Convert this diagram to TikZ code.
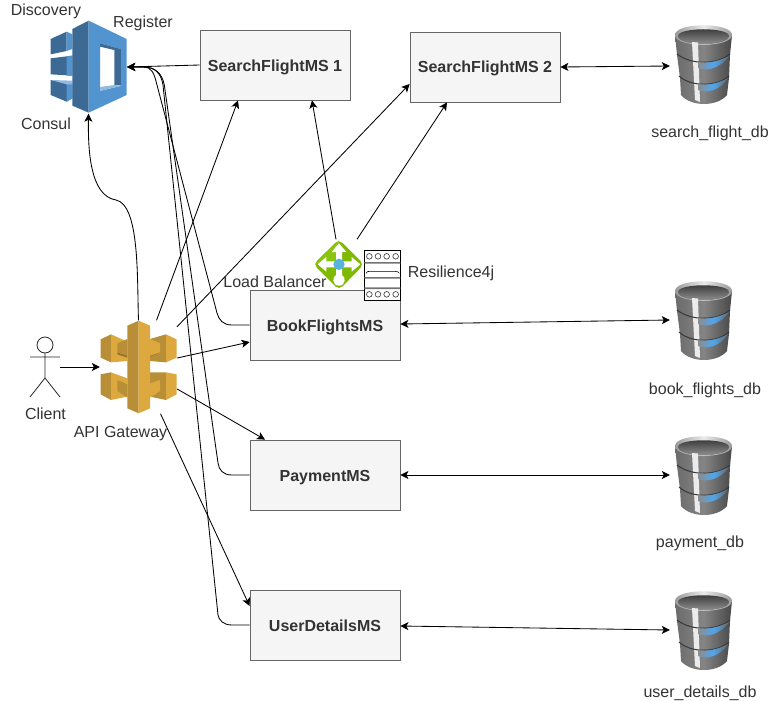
\documentclass[tikz,border=0pt]{standalone}
\usepackage{fontspec}
\setmainfont{Liberation Sans}
\usetikzlibrary{arrows.meta}
\definecolor{boxfill}{HTML}{F5F5F5}
\definecolor{boxline}{HTML}{666666}
\definecolor{txt}{HTML}{333333}
\definecolor{cblue}{HTML}{5294CF}
\definecolor{cdark}{HTML}{3C6A94}
\definecolor{clight}{HTML}{8FBBE2}
\definecolor{gold}{HTML}{DDA93F}
\definecolor{golddk}{HTML}{93712F}
\definecolor{goldmd}{HTML}{B88E36}
\definecolor{glow}{HTML}{4FA6EE}
\definecolor{lbgreen}{HTML}{7FBA00}
\definecolor{lblight}{HTML}{8AC40F}
\definecolor{lbblue}{HTML}{59B4D9}
\tikzset{
  x=1pt,y=-1pt,
  msbox/.style={draw=boxline,fill=boxfill,line width=0.8pt,minimum width=150pt,minimum height=70pt,inner sep=0pt,font=\fontsize{16}{18}\selectfont\bfseries,text=txt,text height=12pt,text depth=0pt},
  lbl/.style={font=\fontsize{16}{18}\selectfont,text=txt,inner sep=0pt,text height=12pt,text depth=0pt},
  iconbox/.style={inner sep=0pt,minimum width=#1},
  link/.style={draw=black,line width=0.85pt,-{Stealth[length=8pt,width=8pt,inset=2pt]}},
  dlink/.style={draw=black,line width=0.85pt,{Stealth[length=8pt,width=8pt,inset=2pt]}-{Stealth[length=8pt,width=8pt,inset=2pt]}},
  pics/dbicon/.style={code={
    \shade[left color=black!58,right color=black!72,middle color=black!48]
      (0,10) -- (2,30) -- (5,53) -- (6,70) .. controls (16,82) and (42,82) .. (52,70) -- (54,53) -- (55,30) -- (57,10) -- cycle;
    \shade[left color=black!40,right color=black!40,middle color=black!8]
      (0,10) .. controls (0,-3) and (57,-3) .. (57,10) .. controls (57,23) and (0,23) .. (0,10) -- cycle;
    \shade[top color=black!80,bottom color=black!38]
      (3,11) .. controls (3,2) and (54,2) .. (54,11) .. controls (54,22) and (3,22) .. (3,11) -- cycle;
    \fill[black!8] (17,17) -- (23,17.5) -- (25,77) -- (20,75) -- cycle;
    \draw[black!78,line width=1pt] (2,29) .. controls (16,40) and (41,40) .. (55,29);
    \draw[black!78,line width=1pt] (4,51) .. controls (16,62) and (41,62) .. (54,51);
    \shade[left color=black!45,right color=black!60,middle color=glow]
      (23,37) .. controls (32,38.5) and (42,37) .. (54,31) .. controls (44,45) and (30,46) .. (23,43) -- cycle;
    \shade[left color=black!45,right color=black!60,middle color=glow]
      (23,59) .. controls (32,60.5) and (42,59) .. (53,53) .. controls (44,67) and (30,68) .. (23,65) -- cycle;
  }}
}
\begin{document}
\begin{tikzpicture}
\useasboundingbox (0,0) rectangle (776,701);

% consul icon
\begin{scope}[shift={(45,15)},scale=1/3]
  \fill[cdark] (17,72) -- (65,50) -- (65,108) -- (17,118) -- cycle;
  \fill[cblue] (65,50) -- (82,58) -- (82,102) -- (65,108) -- cycle;
  \fill[cdark] (17,130) -- (82,122) -- (82,182) -- (17,178) -- cycle;
  \fill[cblue] (65,124) -- (82,122) -- (82,182) -- (65,182) -- cycle;
  \fill[cdark] (17,195) -- (82,208) -- (82,250) -- (65,260) -- (17,240) -- cycle;
  \fill[cblue] (65,204) -- (82,208) -- (82,250) -- (65,260) -- cycle;
  \fill[clight] (17,195) -- (82,197) -- (82,208) -- (65,208) -- cycle;
  \fill[cdark] (82,42) -- (131,17) -- (131,293) -- (82,272) -- cycle;
  \fill[cblue,even odd rule] (131,17) -- (245,72) -- (245,240) -- (131,293) -- cycle
     (165,85) -- (165,228) -- (230,212) -- (230,103) -- cycle;
  \fill[cdark] (165,85) -- (230,103) -- (230,212) -- (208,210) -- (208,105) -- (165,95) -- cycle;
  \fill[clight] (165,228) -- (165,216) -- (208,210) -- (230,212) -- cycle;
\end{scope}
\node[iconbox=77pt,minimum height=93pt] (consul) at (88.5,67) {};

% gateway icon
\begin{scope}[shift={(95,315)},scale=1/3]
  % upper left
  \fill[goldmd] (17,73) -- (48,58) -- (48,142) -- (17,128) -- cycle;
  \fill[gold] (48,58) -- (97,80) -- (97,138) -- (48,142) -- cycle;
  \fill[golddk] (67,112) -- (97,122) -- (97,128) -- (67,118) -- cycle;
  \fill[goldmd] (67,85) -- (97,72) -- (97,122) -- (67,112) -- cycle;
  % upper right
  \fill[goldmd] (165,72) -- (213,58) -- (213,142) -- (165,138) -- cycle;
  \fill[gold] (213,58) -- (245,73) -- (245,128) -- (213,142) -- cycle;
  \fill[golddk] (165,112) -- (195,112) -- (165,125) -- cycle;
  \fill[gold] (165,72) -- (195,85) -- (195,112) -- (165,122) -- cycle;
  % lower left
  \fill[goldmd] (17,178) -- (48,172) -- (48,255) -- (17,238) -- cycle;
  \fill[gold] (48,172) -- (97,190) -- (97,245) -- (48,255) -- cycle;
  \fill[goldmd] (67,195) -- (97,208) -- (97,248) -- (67,228) -- cycle;
  % lower right
  \fill[goldmd] (165,172) -- (213,172) -- (213,255) -- (165,245) -- cycle;
  \fill[gold] (213,172) -- (245,178) -- (245,238) -- (213,255) -- cycle;
  \fill[gold] (165,205) -- (195,195) -- (195,228) -- (165,248) -- cycle;
  % column
  \fill[goldmd] (97,32) -- (131,17) -- (131,295) -- (97,280) -- cycle;
  \fill[gold] (131,17) -- (165,32) -- (165,280) -- (131,295) -- cycle;
\end{scope}
\node[iconbox=77pt,minimum height=93pt] (gw) at (138.5,367) {};

% client actor
\begin{scope}[draw=black!85,line width=0.8pt]
  \draw (45,345) circle (8pt);
  \draw (45,353) -- (45,378) (30,357) -- (60,357) (45,378) -- (30,397) (45,378) -- (60,397);
\end{scope}
\node[inner sep=0pt,minimum width=30pt,minimum height=60pt] (client) at (45,367) {};

% boxes
\node[msbox] (sf1) at (275,65) {SearchFlightMS 1};
\node[msbox] (sf2) at (485,67) {SearchFlightMS 2};
\node[msbox] (book) at (325,325) {BookFlightsMS};
\node[msbox] (pay) at (325,475) {PaymentMS};
\node[msbox] (user) at (325,625) {UserDetailsMS};

% databases
\path (675,25) pic {dbicon};
\path (675,281) pic {dbicon};
\path (675,436) pic {dbicon};
\path (675,591) pic {dbicon};
\node[iconbox=60pt,minimum height=80pt] (dbs) at (700,66) {};
\node[iconbox=60pt,minimum height=80pt] (dbb) at (700,320) {};
\node[iconbox=60pt,minimum height=80pt] (dbp) at (700,475) {};
\node[iconbox=60pt,minimum height=80pt] (dbu) at (700,630) {};

% load balancer
\begin{scope}[shift={(300,230)},scale=1/3]
  \fill[lbgreen,rounded corners=5pt] (117,28) -- (192,103) -- (117,180) -- (40,103) -- cycle;
  \fill[lblight] (117,31) -- (44,103) -- (117,103) -- cycle;
  \fill[white] (117,40) -- (139,66) -- (126,66) -- (126,135) .. controls (138,140) and (138,167) .. (117,167) .. controls (96,167) and (96,140) .. (108,135) -- (108,66) -- (95,66) -- cycle;
  \fill[white] (53,103) -- (79,81) -- (79,94) -- (155,94) -- (155,81) -- (181,103) -- (155,125) -- (155,112) -- (79,112) -- (79,125) -- cycle;
  \fill[lbblue] (117,103) circle (17);
\end{scope}
\node[iconbox=50pt,minimum height=50pt] (lb) at (339,264.5) {};

% resilience icon
\begin{scope}[shift={(300,230)},scale=1/3]
  \draw[black,fill=white,line width=0.9pt] (193,61) rectangle (301,211);
  \foreach \x in {208,234,260,287} { \draw[black!70,line width=0.7pt] (\x,79) circle (8.5); \draw[black!70,line width=0.7pt] (\x,193) circle (8.5); }
  \fill[black!55] (193,96) rectangle (301,101) (193,141) rectangle (301,146) (193,172) rectangle (301,177);
  \draw[black,line width=0.6pt] (198,130) .. controls (200,124) and (205,124) .. (210,124) -- (285,124) .. controls (292,124) and (296,126) .. (298,130);
\end{scope}
\node[iconbox=36pt,minimum height=50pt] (res) at (382,275) {};

% connectors
\draw[link] (client.east) -- (gw.west);
\draw[link] (sf1.west) -- (consul.east);
\draw[link] (book.west) -- (232,325) .. controls (223,325) and (219,320) .. (217,313) -- (157,85) .. controls (154,73) and (152,67) .. (143,67) -- (consul.east);
\draw[link] (pay.west) -- (232,475) .. controls (223,475) and (219,470) .. (218,463) -- (164.3,85) .. controls (162,73) and (155,67) .. (143,67) -- (consul.east);
\draw[link] (user.west) -- (232,625) .. controls (223,625) and (219,620) .. (218,615) -- (163,85) .. controls (161,73) and (155,67) .. (143,67) -- (consul.east);
\draw[link] (gw.north) .. controls (137,280) and (140,205) .. (116,200) .. controls (90,196) and (88,150) .. (consul.south);
\draw[link] ([xshift=18pt]gw.north) -- ([xshift=-37pt]sf1.south);
\draw[link] ([xshift=38.5pt,yshift=-6.5pt]gw.north) -- ([yshift=-17pt]sf2.west);
\draw[link] ([yshift=9pt]gw.east) -- ([yshift=-17pt]book.west);
\draw[link] ([yshift=-22pt]gw.east) -- ([xshift=-60pt]pay.north);
\draw[link] ([xshift=22pt]gw.south) -- ([yshift=19pt]user.west);
\draw[link] ([xshift=-3pt]lb.north) -- ([xshift=37pt]sf1.south);
\draw[link] ([xshift=18pt]lb.north) -- ([xshift=-38pt]sf2.south);
\draw[dlink] (sf2.east) -- (dbs.west);
\draw[dlink] ([yshift=1pt]book.east) -- (dbb.west);
\draw[dlink] (pay.east) -- (dbp.west);
\draw[dlink] ([yshift=-1pt]user.east) -- (dbu.west);

% labels
\node[lbl] (l1) at (46,10) {Discovery};
\node[lbl] (l2) at (143,22) {Register};
\node[lbl] (l3) at (46,123) {Consul};
\node[lbl] (l4) at (45.5,413) {Client};
\node[lbl] (l5) at (120.5,431) {API Gateway};
\node[lbl] (l6) at (275,281) {Load Balancer};
\node[lbl] (l7) at (451,271) {Resilience4j};
\node[lbl] (l8) at (710,131) {search\_flight\_db};
\node[lbl] (l9) at (705,388) {book\_flights\_db};
\node[lbl] (l10) at (700,541) {payment\_db};
\node[lbl] (l11) at (700,691) {user\_details\_db};
\end{tikzpicture}
\end{document}
